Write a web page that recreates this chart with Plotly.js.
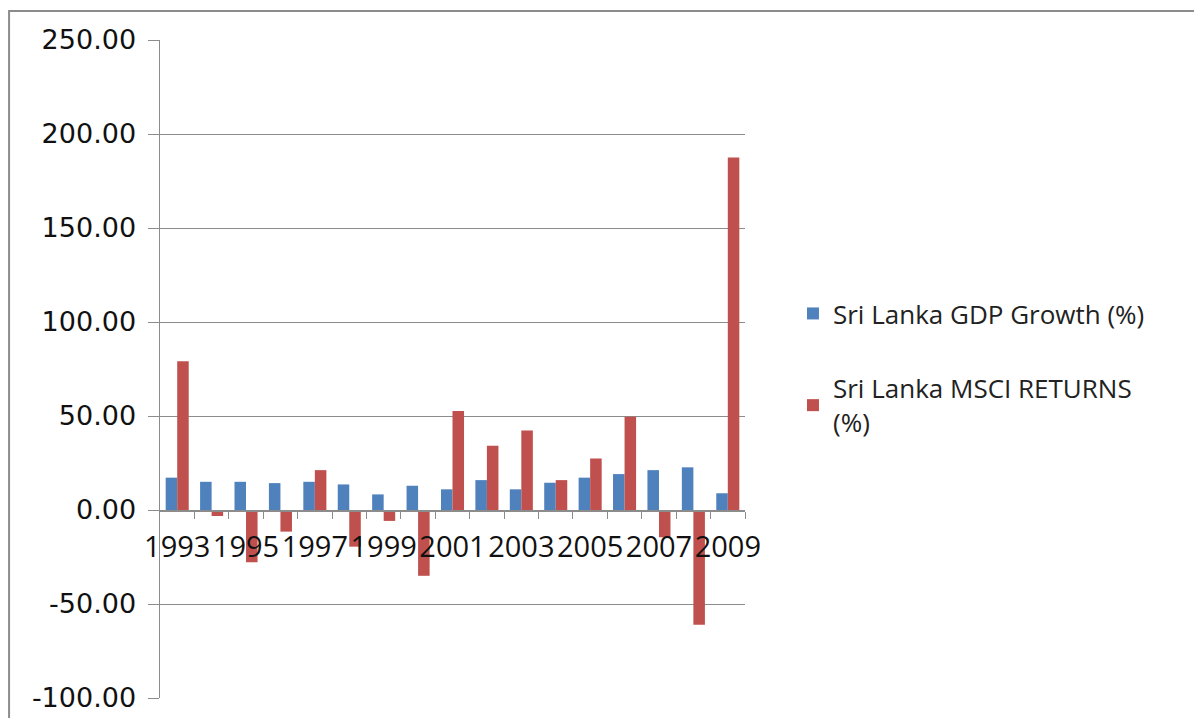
<!DOCTYPE html>
<html>
<head>
<meta charset="utf-8">
<script src="https://cdn.plot.ly/plotly-3.0.1.min.js"></script>
<style>html,body{margin:0;padding:0;background:#fff;}#chart{width:1194px;height:718px;}</style>
</head>
<body>
<div id="chart"></div>
<script>
var years = [1993,1994,1995,1996,1997,1998,1999,2000,2001,2002,2003,2004,2005,2006,2007,2008,2009];
var gdpGrowth = [17.2,15.0,15.0,14.3,15.0,13.6,8.3,12.9,11.0,15.9,11.0,14.5,17.2,19.1,21.2,22.7,8.9];
var msciReturns = [79.1,-3.2,-27.8,-11.5,21.2,-19.5,-5.8,-35.0,52.6,34.2,42.3,15.9,27.4,49.6,-14.5,-61.0,187.5];
var xTickYears = [1993,1995,1997,1999,2001,2003,2005,2007,2009];
var yTicks = [-100,-50,0,50,100,150,200,250];
var yTickText = ['-100.00','-50.00','0.00','50.00','100.00','150.00','200.00','250.00'];
var seriesNames = ['Sri Lanka GDP Growth (%)', 'Sri Lanka MSCI RETURNS<br>(%)'];

var boundaries = years.map(function(y){ return y + 0.5; });

var traces = [
  {type:'bar', x: years, y: gdpGrowth, name: seriesNames[0], legendgroup:'a',
   marker:{color:'#4F81BD'}},
  {type:'bar', x: years, y: msciReturns, name: seriesNames[1], legendgroup:'b',
   marker:{color:'#C0504D'}}
];

var layout = {
  width: 1194, height: 718,
  margin: {l:160, r:449, t:40, b:20},
  paper_bgcolor:'#fff', plot_bgcolor:'#fff',
  barmode:'group', bargap:0.33, bargroupgap:0,
  showlegend:true,
  legend:{x:1.082, xanchor:'left', y:0.62, yanchor:'top',
          font:{family:'Open Sans', size:26, color:'#222'},
          tracegroupgap:38, itemwidth:30, bgcolor:'rgba(0,0,0,0)'},
  xaxis:{
    range:[1992.5, 2009.5],
    tickmode:'array', tickvals: xTickYears, ticktext: xTickYears.map(String),
    tickangle:0, ticks:'', showgrid:false, zeroline:false,
    showline:true, linecolor:'#8c8c8c', linewidth:1.5,
    anchor:'free', position: 100/350,
    tickfont:{family:'Open Sans', size:29, color:'#111'},
    ticklabelstandoff: 11,
    minor:{tickmode:'array', tickvals: boundaries, ticks:'outside', ticklen:7, tickcolor:'#8c8c8c', showgrid:false}
  },
  yaxis:{
    range:[-100, 250],
    tickmode:'array', tickvals: yTicks, ticktext: yTickText,
    ticks:'outside', ticklen:11, tickcolor:'#8c8c8c',
    showgrid:true, gridcolor:'#8c8c8c', gridwidth:1,
    zeroline:false, showline:true, linecolor:'#8c8c8c', linewidth:1.5,
    tickfont:{family:'DejaVu Sans', size:27, color:'#111'},
    ticklabelstandoff: 6
  },
  shapes:[
    {type:'rect', xref:'paper', yref:'paper', x0:-0.258, x1:1.8, y0:1.044, y1:-0.2,
     line:{color:'#8c8c8c', width:2}, fillcolor:'rgba(0,0,0,0)', layer:'below'}
  ]
};

Plotly.newPlot('chart', traces, layout, {displayModeBar:false, staticPlot:true});
</script>
</body>
</html>
